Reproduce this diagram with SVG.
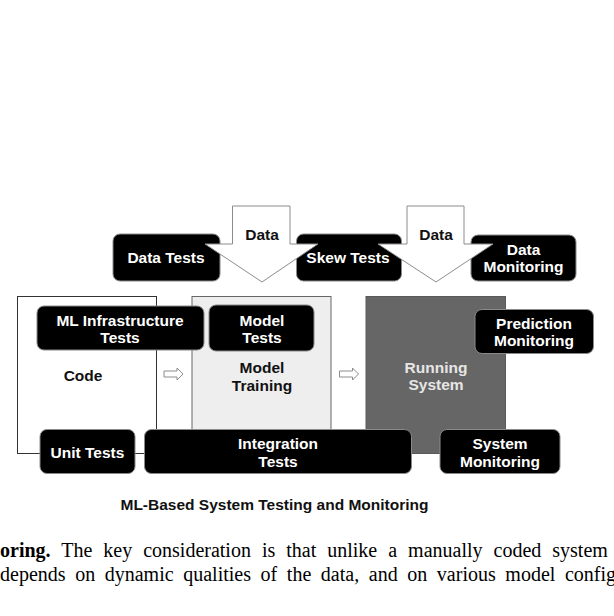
<svg xmlns="http://www.w3.org/2000/svg" width="614" height="616" viewBox="0 0 614 616">
<style>
.lbl{font-family:"Liberation Sans",Arial,sans-serif;font-weight:bold;font-size:15.5px;text-anchor:middle}
.w{fill:#ffffff}
.k{fill:#111111}
.tag{fill:#000000;stroke:#8a8a8a;stroke-width:1}
.big{stroke-width:1}
.flow{fill:#ffffff;stroke:#8c8c8c;stroke-width:1}
.body{font-family:"Liberation Serif","Times New Roman",serif;font-size:20px;fill:#000}
</style>
<rect width="614" height="616" fill="#ffffff"/>
<g id="code">
<rect class="big" x="17.5" y="296.5" width="139" height="157" fill="#ffffff" stroke="#333333"/>
<text class="lbl k" x="83" y="381">Code</text>
</g>
<g id="model-training">
<rect class="big" x="192" y="296.5" width="139" height="157" fill="#eeeeee" stroke="#666666"/>
<text class="lbl k" x="262" y="373">Model</text>
<text class="lbl k" x="262" y="391">Training</text>
</g>
<g id="running-system">
<rect class="big" x="366" y="296.5" width="139.5" height="157" fill="#666666" stroke="#5a5a5a"/>
<text class="lbl" fill="#e6e6e6" x="436" y="373">Running</text>
<text class="lbl" fill="#e6e6e6" x="436" y="390">System</text>
</g>
<g id="connectors">
<path class="flow" d="M164,371 H177 V368 L183,374 L177,380 V377 H164 Z"/>
<path class="flow" d="M339.5,371 H352.5 V368 L358.5,374 L352.5,380 V377 H339.5 Z"/>
</g>
<g id="data-tests">
<rect class="tag" x="113" y="234" width="107" height="47" rx="7"/>
<text class="lbl w" x="166" y="263">Data Tests</text>
</g>
<g id="skew-tests">
<rect class="tag" x="296.5" y="234" width="105" height="47" rx="7"/>
<text class="lbl w" x="348" y="263">Skew Tests</text>
</g>
<g id="data-monitoring">
<rect class="tag" x="471" y="235" width="105" height="46" rx="7"/>
<text class="lbl w" x="523.5" y="255">Data</text>
<text class="lbl w" x="523.5" y="272">Monitoring</text>
</g>
<g id="ml-infrastructure-tests">
<rect class="tag" x="37" y="306" width="167" height="44" rx="7"/>
<text class="lbl w" x="120" y="326">ML Infrastructure</text>
<text class="lbl w" x="120" y="343">Tests</text>
</g>
<g id="model-tests">
<rect class="tag" x="209" y="305" width="105" height="46" rx="7"/>
<text class="lbl w" x="262" y="326">Model</text>
<text class="lbl w" x="262" y="343">Tests</text>
</g>
<g id="prediction-monitoring">
<rect class="tag" x="475" y="309.5" width="118.5" height="44" rx="7"/>
<text class="lbl w" x="534" y="328.5">Prediction</text>
<text class="lbl w" x="534" y="346">Monitoring</text>
</g>
<g id="unit-tests">
<rect class="tag" x="40" y="429.5" width="95" height="44" rx="7"/>
<text class="lbl w" x="87.5" y="458">Unit Tests</text>
</g>
<g id="integration-tests">
<rect class="tag" x="144.5" y="429.5" width="267" height="44" rx="7"/>
<text class="lbl w" x="278" y="448.5">Integration</text>
<text class="lbl w" x="278" y="466.5">Tests</text>
</g>
<g id="system-monitoring">
<rect class="tag" x="440" y="429.5" width="120" height="44" rx="7"/>
<text class="lbl w" x="500" y="448.5">System</text>
<text class="lbl w" x="500" y="466.5">Monitoring</text>
</g>
<g id="data-in-1">
<path class="flow" d="M232.5,206 H290 V244 H318 L262,282 L205,244 H232.5 Z"/>
<text class="lbl k" x="262" y="240">Data</text>
</g>
<g id="data-in-2">
<path class="flow" d="M407,206 H464 V244 H493 L436,282 L378,244 H407 Z"/>
<text class="lbl k" x="436" y="240">Data</text>
</g>
<text class="lbl k" x="274.5" y="510">ML-Based System Testing and Monitoring</text>
<text class="body" x="0" y="557" word-spacing="6"><tspan font-weight="bold">oring.</tspan> The key consideration is that unlike a manually coded system</text>
<text class="body" x="0" y="581" word-spacing="4.6">depends on dynamic qualities of the data, and on various model config</text>
</svg>
